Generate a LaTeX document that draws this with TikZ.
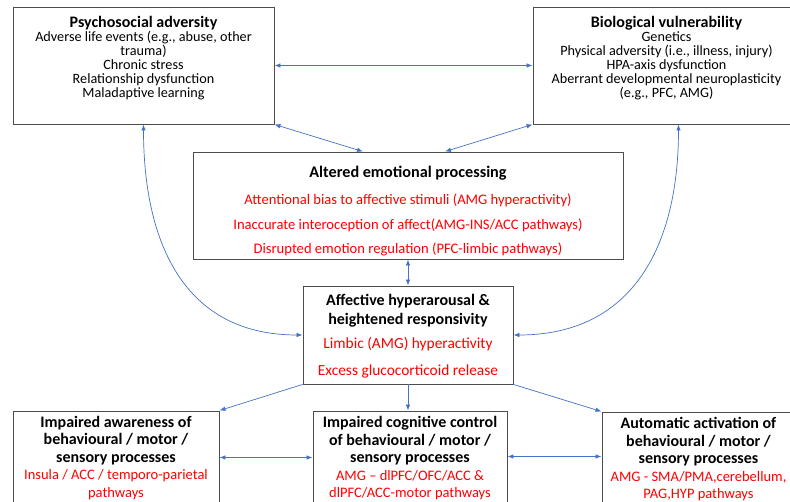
\documentclass[tikz,border=0pt]{standalone}
\usepackage{fontspec}
\setmainfont{Carlito}
\usetikzlibrary{arrows.meta,positioning}
\definecolor{linkblue}{HTML}{4472C4}
\newcommand{\topsize}{\fontsize{14.2}{13.9}\selectfont}
\newcommand{\altsize}{\fontsize{14.6}{18.3}\selectfont}
\newcommand{\affsize}{\fontsize{15.4}{19}\selectfont}
\newcommand{\lowsize}{\fontsize{14.5}{17.5}\selectfont}
\newcommand{\redtxt}[1]{\textcolor{red}{#1}}
\newcommand{\hd}[2]{{\fontsize{#1}{13.9}\selectfont\bfseries #2}}
\tikzstyle{box}=[draw=black!70, line width=0.9pt, inner sep=0pt]
\tikzstyle{boxtext}=[align=center, inner sep=0pt]
\tikzstyle{arrow}=[linkblue, line width=0.7pt, ->]
\tikzstyle{darrow}=[linkblue, line width=0.7pt, <->]

\begin{document}
\begin{tikzpicture}[x=1pt,y=-1pt,>={Latex[length=6pt,width=4.5pt]}]
\useasboundingbox (0,0) rectangle (790,502);
\clip (0,0) rectangle (790,502);
% top row
\node (psy) [box, minimum width=261pt, minimum height=117pt] at (143.5,65.5) {};
\node (psytext) [boxtext, below=10pt of psy.north, font=\topsize]
  {\hd{16}{Psychosocial adversity}\\Adverse life events (e.g., abuse, other\\trauma)\\Chronic stress\\Relationship dysfunction\\Maladaptive learning};
\node (bio) [box, minimum width=267pt, minimum height=117pt] at (666.5,65.5) {};
\node (biotext) [boxtext, below=10pt of bio.north, font=\topsize]
  {\hd{16}{Biological vulnerability}\\Genetics\\Physical adversity (i.e., illness, injury)\\HPA-axis dysfunction\\Aberrant developmental neuroplasticity\\(e.g., PFC, AMG)};
% middle
\node (alt) [box, minimum width=430pt, minimum height=107pt] at (408,205.5) {};
\node (alttext) [boxtext, below=14.5pt of alt.north, font=\altsize]
  {\hd{16.2}{Altered emotional processing}\\[9pt]
   \redtxt{Attentional bias to affective stimuli (AMG hyperactivity)}\\[6pt]
   \redtxt{Inaccurate interoception of affect(AMG-INS/ACC pathways)}\\[6pt]
   \redtxt{Disrupted emotion regulation (PFC-limbic pathways)}};
\node (aff) [box, minimum width=210pt, minimum height=98pt] at (408,335) {};
\node (afftext) [boxtext, below=9pt of aff.north, font=\affsize]
  {\hd{16}{Affective hyperarousal \&}\\\hd{16}{heightened responsivity}\\[5pt]
   \redtxt{Limbic (AMG) hyperactivity}\\[8pt]
   \redtxt{Excess glucocorticoid release}};
% bottom row
\node (awa) [box, minimum width=206pt, minimum height=99pt] at (116,460.5) {};
\node (awatext) [boxtext, below=5.5pt of awa.north, font=\lowsize]
  {\hd{16}{Impaired awareness of}\\\hd{16}{behavioural / motor /}\\\hd{16}{sensory processes}\\
   \redtxt{Insula / ACC / temporo-parietal}\\\redtxt{pathways}};
\node (cog) [box, minimum width=194pt, minimum height=99pt] at (410,460.5) {};
\node (cogtext) [boxtext, below=5.5pt of cog.north, font=\lowsize]
  {\hd{16}{Impaired cognitive control}\\\hd{16}{of behavioural / motor /}\\\hd{16}{sensory processes}\\
   \redtxt{AMG -- dlPFC/OFC/ACC \&}\\\redtxt{dlPFC/ACC-motor pathways}};
\node (aut) [box, minimum width=193pt, minimum height=98pt] at (698.5,461) {};
\node (auttext) [boxtext, below=5.5pt of aut.north, font=\lowsize]
  {\hd{16}{Automatic activation of}\\\hd{16}{behavioural / motor /}\\\hd{16}{sensory processes}\\
   \redtxt{AMG - SMA/PMA,cerebellum,}\\\redtxt{PAG,HYP pathways}};
% connectors
\draw[darrow] (psy) -- (bio);
\draw[darrow] (psy.south east) -- ([xshift=-45pt]alt.north);
\draw[darrow] (bio.south west) -- ([xshift=37pt]alt.north);
\draw[darrow] (alt) -- (aff);
\draw[darrow] (psy.south) to[out=-90,in=180,looseness=1.15] (aff.west);
\draw[darrow] ([xshift=12pt]bio.south) to[out=-90,in=0,looseness=1.15] (aff.east);
\draw[arrow] (aff.south west) -- (awa.north east);
\draw[arrow] (aff.south) -- (aff.south |- cog.north);
\draw[arrow] (aff.south east) -- (aut.north west);
\draw[darrow] ([yshift=3pt]awa.east) -- ([yshift=3pt]awa.east -| cog.west);
\draw[darrow] ([yshift=4pt]cog.east) -- ([yshift=4pt]cog.east -| aut.west);
\end{tikzpicture}
\end{document}
